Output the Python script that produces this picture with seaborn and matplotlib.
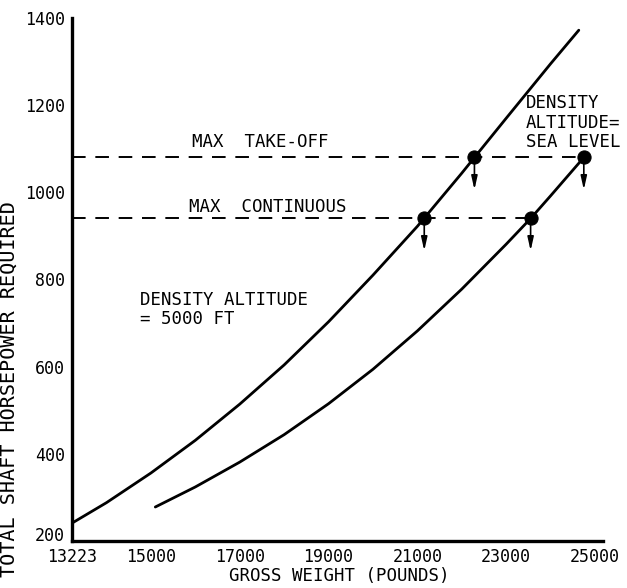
import matplotlib
matplotlib.use("Agg")
import matplotlib.pyplot as plt
import seaborn as sns
import pandas as pd

# Power-required curves (gross weight in pounds, shaft horsepower)
weight_5000 = [13223, 14000, 15000, 16000, 17000, 18000, 19000, 20000, 21000,
               22000, 22285, 23000, 24000, 24635]
power_5000 = [241, 288, 356, 431, 514, 604, 703, 810, 922,
              1044, 1080, 1170, 1295, 1372]

weight_sl = [15099, 16000, 17000, 18000, 19000, 20000, 21000, 22000, 23000,
             23550, 24000, 24748]
power_sl = [278, 324, 381, 444, 515, 594, 682, 778, 881,
            940, 992, 1080]

# Engine rating limits
rating_names = ["MAX  TAKE-OFF", "MAX  CONTINUOUS"]
rating_power = [1080, 940]

# Weights at which each curve meets each rating limit
limit_weight_5000 = [22285, 21155]
limit_weight_sl = [24748, 23550]

x_ticks = [13223, 15000, 17000, 19000, 21000, 23000, 25000]
y_ticks = [200, 400, 600, 800, 1000, 1200, 1400]

curves = pd.concat([
    pd.DataFrame({"weight": weight_5000, "power": power_5000, "alt": "5000 FT"}),
    pd.DataFrame({"weight": weight_sl, "power": power_sl, "alt": "SEA LEVEL"}),
])
limits = pd.DataFrame({
    "weight": limit_weight_5000 + limit_weight_sl,
    "power": rating_power + rating_power,
})

sns.set_style("white")
plt.rcParams["font.family"] = ["DejaVu Sans Mono", "DejaVu Sans"]
plt.rcParams["text.color"] = "black"
plt.rcParams["axes.labelcolor"] = "black"
plt.rcParams["xtick.color"] = "black"
plt.rcParams["ytick.color"] = "black"

fig = plt.figure(figsize=(6.27, 5.88), dpi=100)
ax = fig.add_axes([72 / 627, 1 - 541 / 588, (603 - 72) / 627, (541 - 18) / 588])

sns.lineplot(data=curves, x="weight", y="power", units="alt", estimator=None,
             sort=False, color="black", linewidth=2.0, ax=ax, legend=False)

x_left = 13223
x_right = 25180

# Dashed rating lines from the axis to the outermost intersection
for p, w5, ws in zip(rating_power, limit_weight_5000, limit_weight_sl):
    ax.plot([x_left, max(w5, ws)], [p, p], color="black", linewidth=1.4,
            linestyle=(0, (7, 5)))

sns.scatterplot(data=limits, x="weight", y="power", color="black", s=90,
                edgecolor="black", zorder=5, ax=ax, legend=False)

# Small arrows pointing down to the weight scale
for w, p in zip(limits["weight"], limits["power"]):
    ax.annotate("", xy=(w, p - 74), xytext=(w, p - 8),
                arrowprops=dict(arrowstyle="-|>,head_length=0.8,head_width=0.18",
                                color="black", lw=1.2, shrinkA=0, shrinkB=0))

fs = 12.5
ax.text(15925, 1115, rating_names[0], fontsize=fs, va="center", ha="left")
ax.text(15858, 966, rating_names[1], fontsize=fs, va="center", ha="left")
ax.text(14754, 753, "DENSITY ALTITUDE", fontsize=fs, va="center", ha="left")
ax.text(14754, 709, "= 5000 FT", fontsize=fs, va="center", ha="left")
ax.text(23446, 1205, "DENSITY", fontsize=fs, va="center", ha="left")
ax.text(23446, 1160, "ALTITUDE=", fontsize=fs, va="center", ha="left")
ax.text(23446, 1115, "SEA LEVEL", fontsize=fs, va="center", ha="left")

ax.set_xlim(x_left, x_right)
ax.set_ylim(200, 1400)
ax.set_xticks(x_ticks)
ax.set_yticks(y_ticks)
ax.set_xticklabels([str(t) for t in x_ticks], fontsize=12)
ax.set_yticklabels([str(t) for t in y_ticks], fontsize=12)
ax.tick_params(axis="x", direction="in", length=3, width=1.2, pad=5)
ax.tick_params(axis="y", direction="out", length=4, width=1.2, pad=1)
# sit the lowest power label on the axis line, clear of the first weight label
ax.get_yticklabels()[0].set_va("baseline")

ax.set_xlabel("GROSS WEIGHT (POUNDS)", fontsize=fs)
ax.set_ylabel("TOTAL SHAFT HORSEPOWER REQUIRED", fontsize=14.5)
ax.yaxis.set_label_coords(-0.100, 0.29)
ax.xaxis.set_label_coords(0.503, -0.05)

for side in ["top", "right"]:
    ax.spines[side].set_visible(False)
for side in ["left", "bottom"]:
    ax.spines[side].set_linewidth(2.4)
    ax.spines[side].set_color("black")

fig.savefig("out.png", dpi=100)
